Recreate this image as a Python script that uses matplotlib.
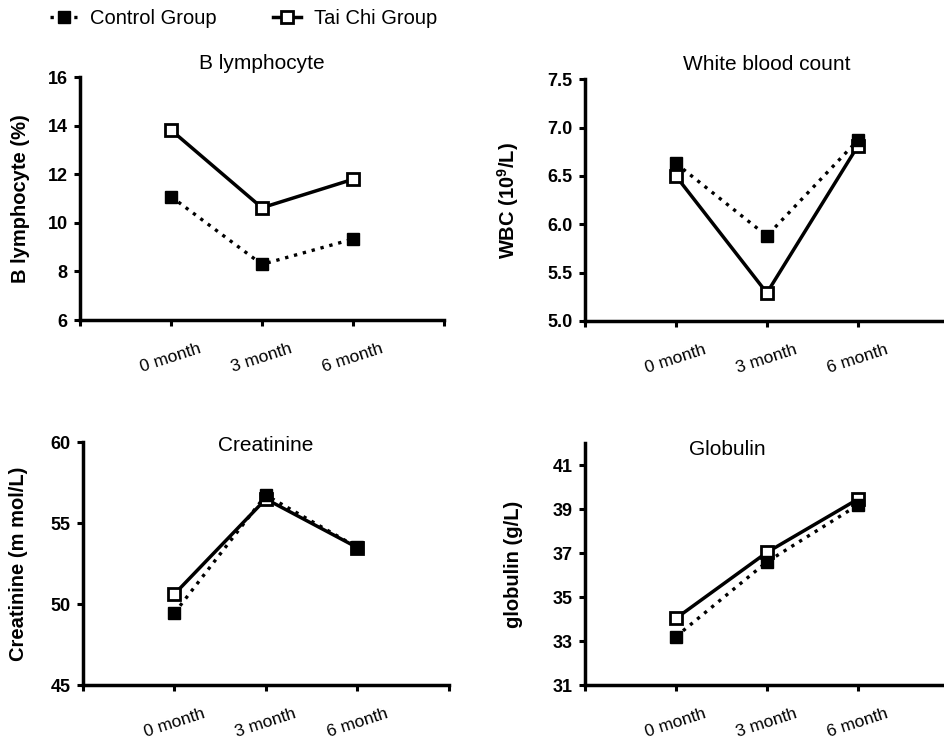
import numpy as np
import matplotlib.pyplot as plt
from matplotlib.lines import Line2D

plt.rcParams['font.family'] = ['Liberation Sans', 'DejaVu Sans']
plt.rcParams['mathtext.fontset'] = 'custom'
plt.rcParams['mathtext.rm'] = 'Liberation Sans'
plt.rcParams['mathtext.bf'] = 'Liberation Sans:bold'

# Donnees
months = ['0 month', '3 month', '6 month']

b_control = [11.08, 8.29, 9.33]
b_taichi = [13.82, 10.62, 11.79]

wbc_control = [6.63, 5.88, 6.87]
wbc_taichi = [6.50, 5.29, 6.81]

creat_control = [49.45, 56.74, 53.51]
creat_taichi = [50.62, 56.50, 53.50]

glob_control = [33.2, 36.6, 39.18]
glob_taichi = [34.03, 37.03, 39.45]

panels = [
    dict(rect=[0.0847, 0.5687, 0.385, 0.3275], title='B lymphocyte', tpos=(0.5, 1.033),
         ylabel='B lymphocyte (%)', lpos=-0.137, ylim=(6, 16), yticks=[6, 8, 10, 12, 14, 16], fmt='{:.0f}',
         control=b_control, taichi=b_taichi),
    dict(rect=[0.619, 0.5674, 0.385, 0.3257], title='White blood count', tpos=(0.5, 1.037),
         ylabel=r'WBC (10$^\mathbf{9}$/L)', lpos=-0.175, ylim=(5, 7.5), yticks=[5.0, 5.5, 6.0, 6.5, 7.0, 7.5], fmt='{:.1f}',
         control=wbc_control, taichi=wbc_taichi),
    dict(rect=[0.0878, 0.0768, 0.387, 0.327], title='Creatinine', tpos=(0.4995, 0.964),
         ylabel='Creatinine (m mol/L)', lpos=-0.150, ylim=(45, 60), yticks=[45, 50, 55, 60], fmt='{:.0f}',
         control=creat_control, taichi=creat_taichi),
    dict(rect=[0.619, 0.0768, 0.385, 0.326], title='Globulin', tpos=(0.391, 0.950),
         ylabel='globulin (g/L)', lpos=-0.171, ylim=(31, 42), yticks=[31, 33, 35, 37, 39, 41], fmt='{:.0f}',
         control=glob_control, taichi=glob_taichi),
]

fig = plt.figure(figsize=(9.45, 7.42), dpi=100)
dotted = (0, (1, 1.75))

for p in panels:
    ax = fig.add_axes(p['rect'])
    x = np.arange(len(months))
    ax.plot(x, p['taichi'], color='black', lw=2.5, marker='s', ms=8,
            mfc='white', mec='black', mew=2, zorder=3, clip_on=False)
    ax.plot(x, p['control'], color='black', lw=2.4, ls=dotted, marker='s', ms=8,
            mfc='black', mec='black', zorder=4, clip_on=False)

    ax.set_xlim(-1, 3)
    ax.set_xticks([-1, 0, 1, 2, 3])
    ax.set_xticklabels([''] + months + [''], rotation=18, fontsize=12.5)
    ax.set_ylim(*p['ylim'])
    ax.set_yticks(p['yticks'])
    ax.set_yticklabels([p['fmt'].format(v) for v in p['yticks']], fontweight='bold', fontsize=13)

    for s in ['top', 'right']:
        ax.spines[s].set_visible(False)
    for s in ['left', 'bottom']:
        ax.spines[s].set_linewidth(2.5)
    ax.tick_params(axis='both', direction='out', length=4, width=2.2, color='black')
    ax.tick_params(axis='x', pad=11)
    ax.tick_params(axis='y', pad=5)

    ax.set_ylabel(p['ylabel'], fontsize=14.5, fontweight='bold')
    ax.yaxis.set_label_coords(p['lpos'], 0.5)
    ax.text(p['tpos'][0], p['tpos'][1], p['title'], transform=ax.transAxes,
            ha='center', va='baseline', fontsize=15)

# Legende
handles = [
    Line2D([], [], color='black', lw=2.4, ls=(0, (1, 2.57)), marker='s', ms=8, mfc='black', mec='black'),
    Line2D([], [], color='black', lw=2.5, marker='s', ms=8, mfc='white', mec='black', mew=2),
]
fig.legend(handles, ['Control Group', 'Tai Chi Group'], loc='upper left',
           bbox_to_anchor=(0.053, 0.988), ncol=2, frameon=False, fontsize=14.5,
           handlelength=1.35, handletextpad=0.65, columnspacing=2.8,
           borderpad=0, borderaxespad=0, numpoints=1)

fig.savefig('out.png', dpi=100)
